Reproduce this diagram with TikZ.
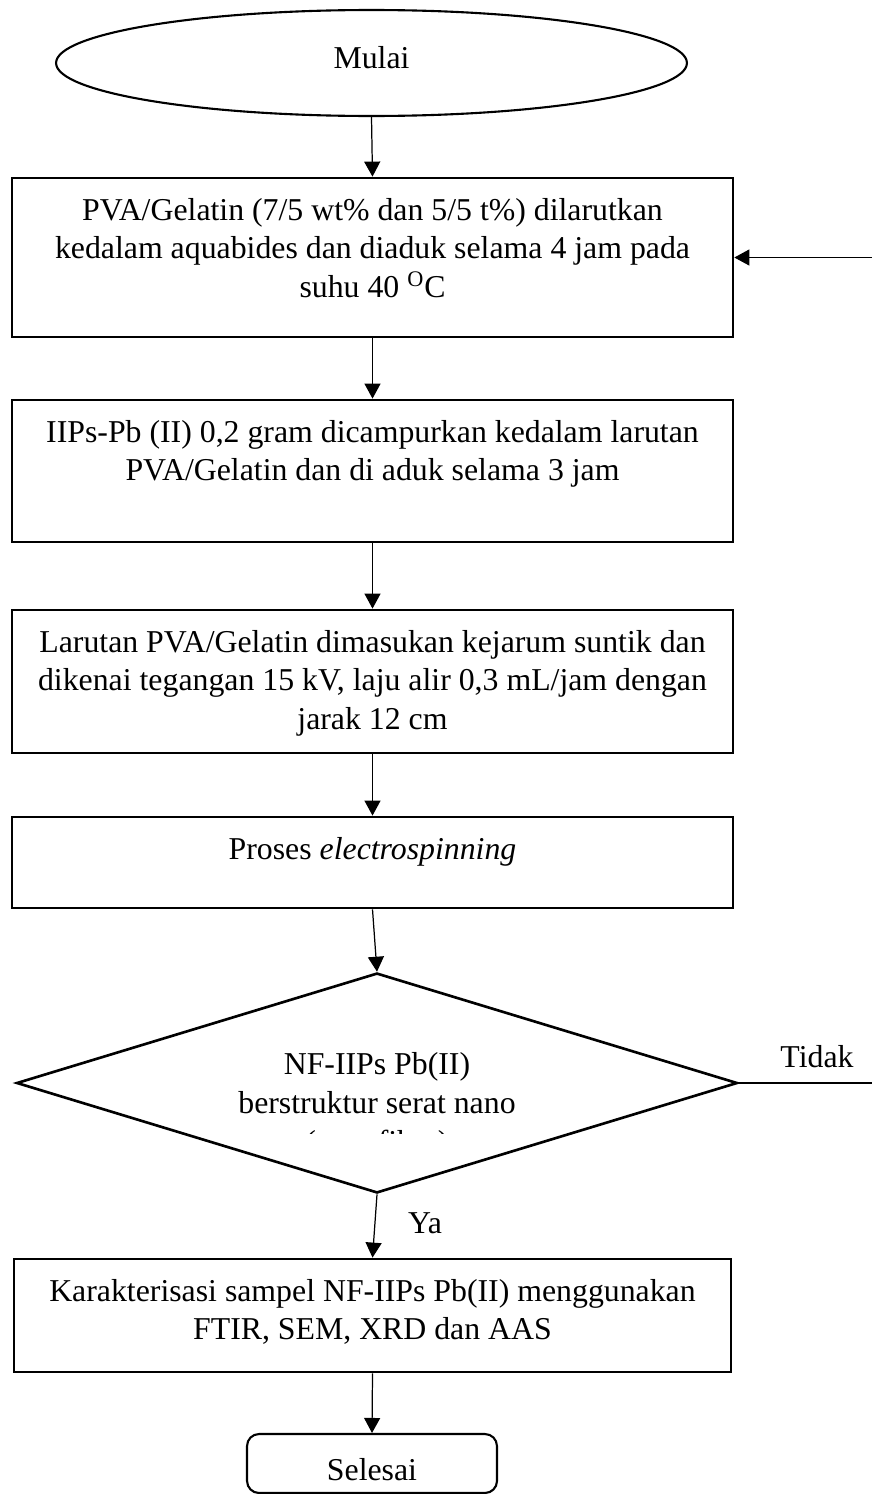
\documentclass[tikz,border=0pt]{standalone}
\usepackage{fontspec}
\setmainfont{Liberation Serif}
\usetikzlibrary{shapes.geometric, arrows.meta, positioning, calc}

\newcommand{\flowfont}{\fontsize{18.1pt}{22.1pt}\selectfont}

\begin{document}
\begin{tikzpicture}[
            x=0.02cm, y=-0.02cm,
            stepbox/.style={draw, line width=1.6pt, minimum width=14.42cm, inner sep=0pt},
            boxtext/.style={anchor=north, align=center, font=\flowfont, inner sep=0pt, yshift=-0.42cm},
            flow/.style={-{Triangle[length=0.3cm, width=0.32cm]}, line width=0.7pt},
            plain/.style={line width=0.7pt}
        ]
            \useasboundingbox (0,0) rectangle (872,1494);

            \node[ellipse, draw, line width=1.2pt, minimum width=12.62cm, minimum height=2.12cm, font=\flowfont, text depth=0.24cm] (mulai) at (371.5,63) {Mulai};
            \node[stepbox, minimum height=3.18cm, label={[boxtext]north:{PVA/Gelatin (7/5 wt\% dan 5/5 t\%) dilarutkan\\ kedalam aquabides dan diaduk selama 4 jam pada\\ suhu 40 \textsuperscript{O}C}}] (larut) at (372.5,257.5) {};
            \node[stepbox, minimum height=2.84cm, label={[boxtext]north:{IIPs-Pb (II) 0,2 gram dicampurkan kedalam larutan\\ PVA/Gelatin dan di aduk selama 3 jam}}] (campur) at (372.5,471) {};
            \node[stepbox, minimum height=2.86cm, label={[boxtext]north:{Larutan PVA/Gelatin dimasukan kejarum suntik dan\\ dikenai tegangan 15 kV, laju alir 0,3 mL/jam dengan\\ jarak 12 cm}}] (suntik) at (372.5,681.5) {};
            \node[stepbox, minimum height=1.82cm, label={[boxtext]north:{Proses \textit{electrospinning}}}] (proses) at (372.5,862.5) {};
            \node[diamond, aspect=3.28, draw, line width=1.5pt, minimum width=14.42cm, minimum height=4.4cm, inner sep=0pt, align=center, font=\flowfont] (cek) at (377,1083) {NF-IIPs Pb(II)\\ berstruktur serat nano};
            \node[stepbox, minimum width=14.34cm, minimum height=2.26cm, label={[boxtext]north:{Karakterisasi sampel NF-IIPs Pb(II) menggunakan\\ FTIR, SEM, XRD dan AAS}}] (karakter) at (372.5,1315.5) {};
            \node[draw, rounded corners=0.24cm, line width=1.2pt, minimum width=5cm, minimum height=1.18cm, font=\flowfont, text height=0.7cm] (selesai) at (372,1463.5) {Selesai};

            \begin{scope}
                \clip (200,1120) rectangle (560,1133);
                \node[font=\flowfont, anchor=base, inner sep=0pt] (serat) at (377,1152) {(nanofiber)};
            \end{scope}

            \node[font=\flowfont] (tidak) at (817,1057) {Tidak};
            \node[font=\flowfont] (ya) at (425,1223) {Ya};
            \coordinate (ulang) at (872,257.5);
            \coordinate (ujung) at (872,1083);

            \draw[flow] (mulai.south) -- (larut.north);
            \draw[flow] (larut.south) -- (campur.north);
            \draw[flow] (campur.south) -- (suntik.north);
            \draw[flow] (suntik.south) -- (proses.north);
            \draw[flow] (proses.south) -- (cek.north);
            \draw[flow] (cek.south) -- (karakter.north);
            \draw[flow] (karakter.south) -- (selesai.north);
            \draw[flow] (ulang) -- (larut.east);
            \draw[plain] (cek.east) -- (ujung);
        \end{tikzpicture}
\end{document}
